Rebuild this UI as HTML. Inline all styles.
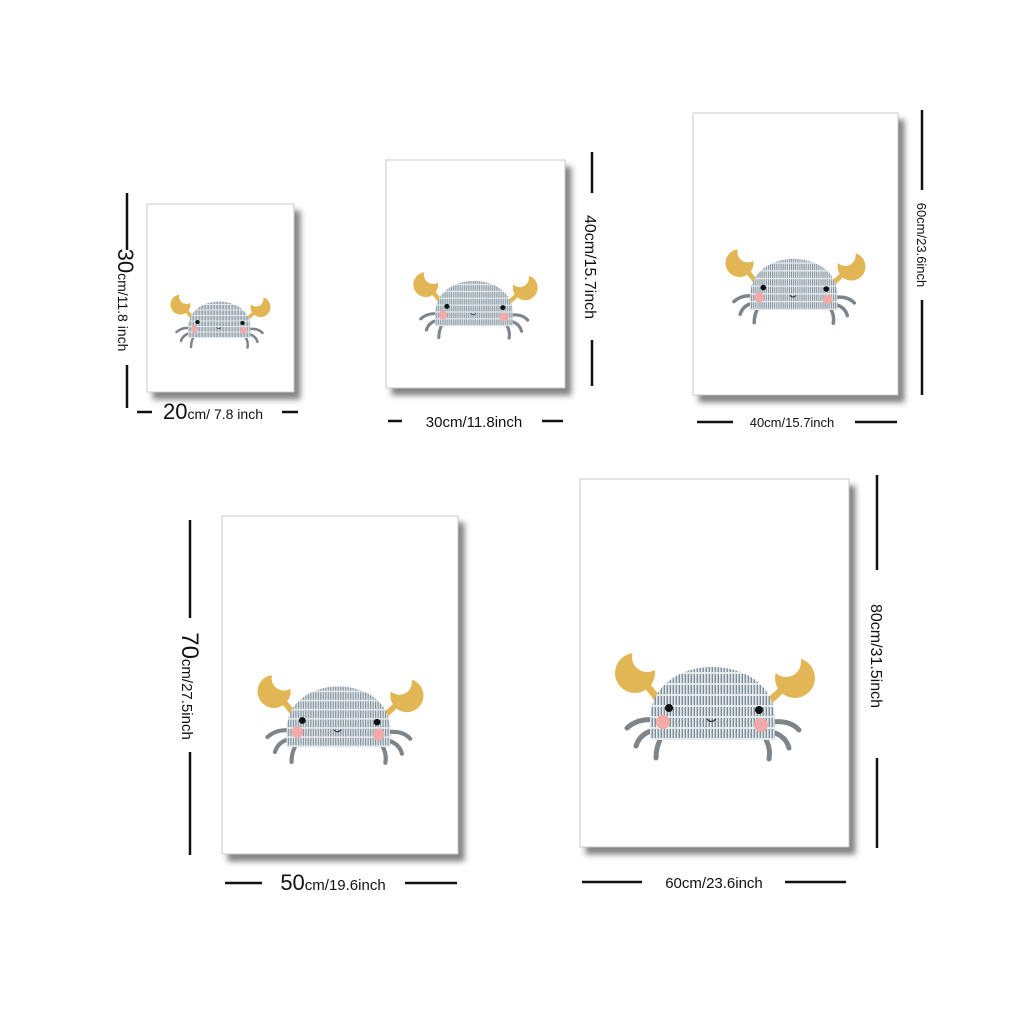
<!DOCTYPE html>
<html><head><meta charset="utf-8"><style>
html,body{margin:0;padding:0;background:#fff;}
svg{display:block;}
text{font-family:"Liberation Sans",sans-serif;fill:#111;}
</style></head><body>
<svg width="1024" height="1024" viewBox="0 0 1024 1024">
<defs>
  <filter id="sh" x="-10%" y="-10%" width="130%" height="130%">
    <feDropShadow dx="6" dy="7" stdDeviation="3" flood-color="#333" flood-opacity="0.6"/>
  </filter>
  <pattern id="shell" width="3" height="11" patternUnits="userSpaceOnUse">
    <rect width="3" height="11" fill="#e4e9ec"/>
    <rect x="0.6" y="1" width="1.4" height="9" fill="#7c8d98"/>
  </pattern>
  <symbol id="crab" viewBox="0 0 230 130">
    <g stroke="#e3b655" stroke-width="7" stroke-linecap="round">
      <line x1="44" y1="42" x2="62" y2="64"/>
      <line x1="186" y1="46" x2="166" y2="64"/>
    </g>
    <circle cx="35" cy="33" r="20" fill="#e3b655"/>
    <circle cx="47" cy="17" r="15" fill="#fff"/>
    <circle cx="195" cy="38" r="20" fill="#e3b655"/>
    <circle cx="186" cy="22" r="15" fill="#fff"/>
    <g stroke="#7d858b" stroke-width="5" stroke-linecap="round" fill="none">
      <path d="M55,80 Q38,78 27,88"/>
      <path d="M55,90 Q40,93 36,106"/>
      <path d="M62,96 Q56,106 56,118"/>
      <path d="M172,82 Q190,80 199,90"/>
      <path d="M172,92 Q186,96 189,108"/>
      <path d="M165,98 Q171,108 169,119"/>
    </g>
    <path d="M50,100 L50,80 C50,46 80,27 112,27 C146,27 175,46 175,80 L175,100 Z" fill="url(#shell)"/>
    <circle cx="69" cy="68" r="4" fill="#111"/>
    <circle cx="159" cy="70" r="4" fill="#111"/>
    <circle cx="63" cy="82" r="7" fill="#f2a9a7"/>
    <circle cx="161" cy="85" r="7" fill="#f2a9a7"/>
    <path d="M107,79 Q111,84 116,79" stroke="#222" stroke-width="1.2" fill="none"/>
  </symbol>
</defs>

<g>
  <rect x="147" y="204" width="147" height="188" fill="#fff" stroke="#c8c8c8" stroke-width="1" filter="url(#sh)"/>
  <use href="#crab" x="163" y="288" width="115" height="65"/>
</g>
<g>
  <rect x="386" y="160" width="179" height="228" fill="#fff" stroke="#c8c8c8" stroke-width="1" filter="url(#sh)"/>
  <use href="#crab" x="404" y="264" width="143" height="81"/>
</g>
<g>
  <rect x="693" y="113" width="205" height="282" fill="#fff" stroke="#c8c8c8" stroke-width="1" filter="url(#sh)"/>
  <use href="#crab" x="715" y="240" width="161" height="91"/>
</g>
<g>
  <rect x="222" y="516" width="236" height="338" fill="#fff" stroke="#c8c8c8" stroke-width="1" filter="url(#sh)"/>
  <use href="#crab" x="245" y="664" width="191" height="108"/>
</g>
<g>
  <rect x="580" y="479" width="269" height="368" fill="#fff" stroke="#c8c8c8" stroke-width="1" filter="url(#sh)"/>
  <use href="#crab" x="600" y="640" width="230" height="130"/>
</g>

<g stroke="#111" stroke-width="2.5">
  <line x1="127" y1="193" x2="127" y2="250"/><line x1="127" y1="365" x2="127" y2="408"/>
  <line x1="137" y1="412" x2="152" y2="412"/><line x1="282" y1="412" x2="298" y2="412"/>
  <line x1="592" y1="152" x2="592" y2="193"/><line x1="592" y1="340" x2="592" y2="386"/>
  <line x1="388" y1="421" x2="402" y2="421"/><line x1="542" y1="421" x2="563" y2="421"/>
  <line x1="922" y1="110" x2="922" y2="190"/><line x1="922" y1="300" x2="922" y2="395"/>
  <line x1="697" y1="422" x2="733" y2="422"/><line x1="855" y1="422" x2="897" y2="422"/>
  <line x1="190" y1="520" x2="190" y2="618"/><line x1="190" y1="752" x2="190" y2="855"/>
  <line x1="225" y1="883" x2="262" y2="883"/><line x1="405" y1="883" x2="457" y2="883"/>
  <line x1="877" y1="475" x2="877" y2="570"/><line x1="877" y1="758" x2="877" y2="848"/>
  <line x1="582" y1="882" x2="642" y2="882"/><line x1="785" y1="882" x2="846" y2="882"/>
</g>

<text transform="translate(118,300) rotate(90)" text-anchor="middle" font-size="14"><tspan font-size="22">30</tspan>cm/11.8 inch</text>
<text x="213" y="419" text-anchor="middle" font-size="14"><tspan font-size="22">20</tspan>cm/ 7.8 inch</text>
<text transform="translate(585,267) rotate(90)" text-anchor="middle" font-size="16">40cm/15.7inch</text>
<text x="474" y="427" text-anchor="middle" font-size="15">30cm/11.8inch</text>
<text transform="translate(917,245) rotate(90)" text-anchor="middle" font-size="13">60cm/23.6inch</text>
<text x="792" y="427" text-anchor="middle" font-size="13">40cm/15.7inch</text>
<text transform="translate(182,686) rotate(90)" text-anchor="middle" font-size="15"><tspan font-size="24">70</tspan>cm/27.5inch</text>
<text x="333" y="890" text-anchor="middle" font-size="15"><tspan font-size="22">50</tspan>cm/19.6inch</text>
<text transform="translate(871,656) rotate(90)" text-anchor="middle" font-size="16">80cm/31.5inch</text>
<text x="714" y="888" text-anchor="middle" font-size="15">60cm/23.6inch</text>
</svg>
</body></html>
